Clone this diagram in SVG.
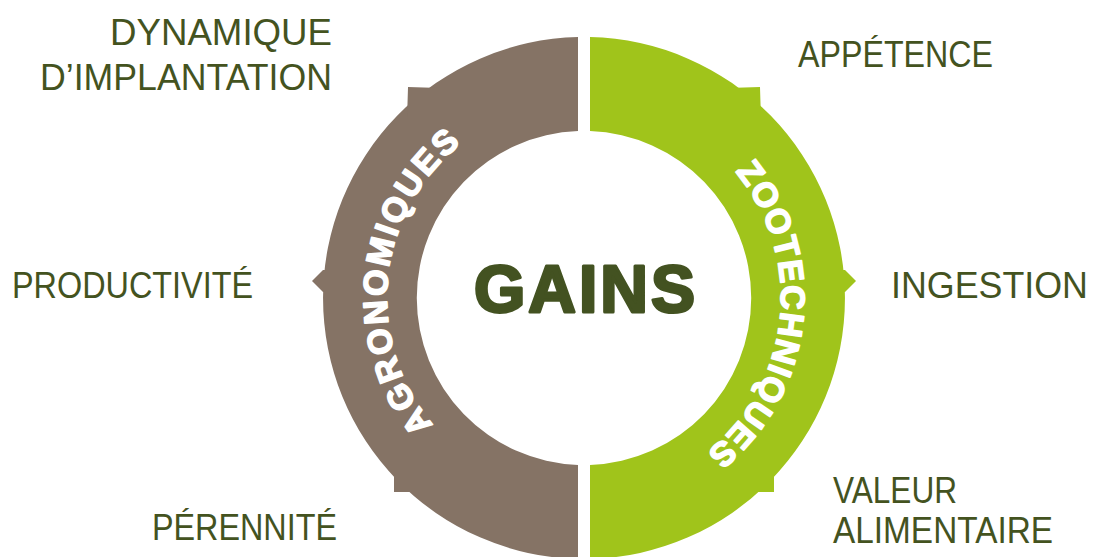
<svg xmlns="http://www.w3.org/2000/svg" width="1094" height="557" viewBox="0 0 1094 557">
<style>
.brown{fill:#857365}
.green{fill:#a0c41b}
.lbl{font-family:"Liberation Sans",Arial,sans-serif;font-size:37px;fill:#44531f}
.ring{font-family:"Liberation Sans",Arial,sans-serif;font-weight:bold;font-size:34px;fill:#ffffff;stroke:#ffffff;stroke-width:1.6;stroke-linejoin:round}
.gains{font-family:"Liberation Sans",Arial,sans-serif;font-weight:bold;font-size:66px;fill:#435221;stroke:#435221;stroke-width:3;stroke-linejoin:round}
</style>
<defs>
<path id="pathAgro" d="M563.4,494.0 A197,197 0 0 1 604.6,102.0"/>
<path id="pathZoo" d="M604.6,102.0 A197,197 0 0 1 563.4,494.0"/>
</defs>
<rect width="1094" height="557" fill="#ffffff"/>
<g id="agronomiques">
<path class="brown" d="M578,37.07 A261,261 0 0 0 578,558.93 L578,464.9 A167,167 0 0 1 578,131.1 Z"/>
<polygon class="brown" points="408,87 440,88 440,120 407,120"/>
<polygon class="brown" points="312,281 323,270 340,270 340,292 323,292"/>
<polygon class="brown" points="394,492 414,492 414,460 394,460"/>
<text class="ring" letter-spacing="2.5"><textPath href="#pathAgro" startOffset="50%" text-anchor="middle">AGRONOMIQUES</textPath></text>
</g>
<g id="zootechniques">
<path class="green" d="M590,37.07 A261,261 0 0 1 590,558.93 L590,464.9 A167,167 0 0 0 590,131.1 Z"/>
<polygon class="green" points="760,87 728,88 728,120 761,120"/>
<polygon class="green" points="856,281 845,270 828,270 828,292 845,292"/>
<polygon class="green" points="774,492 754,492 754,460 774,460"/>
<text class="ring" letter-spacing="1.5"><textPath href="#pathZoo" startOffset="50%" text-anchor="middle">ZOOTECHNIQUES</textPath></text>
</g>
<g id="center">
<text class="gains" x="586" y="312" text-anchor="middle" letter-spacing="3">GAINS</text>
</g>
<g id="labels-left">
<text class="lbl" x="110" y="45" textLength="222" lengthAdjust="spacingAndGlyphs">DYNAMIQUE</text>
<text class="lbl" x="40" y="90" textLength="292" lengthAdjust="spacingAndGlyphs">D’IMPLANTATION</text>
<text class="lbl" x="12" y="298" textLength="241" lengthAdjust="spacingAndGlyphs">PRODUCTIVITÉ</text>
<text class="lbl" x="152" y="540" textLength="185" lengthAdjust="spacingAndGlyphs">PÉRENNITÉ</text>
</g>
<g id="labels-right">
<text class="lbl" x="798" y="67" textLength="195" lengthAdjust="spacingAndGlyphs">APPÉTENCE</text>
<text class="lbl" x="891" y="298" textLength="197" lengthAdjust="spacingAndGlyphs">INGESTION</text>
<text class="lbl" x="833" y="503" textLength="124" lengthAdjust="spacingAndGlyphs">VALEUR</text>
<text class="lbl" x="833" y="543" textLength="220" lengthAdjust="spacingAndGlyphs">ALIMENTAIRE</text>
</g>
</svg>
